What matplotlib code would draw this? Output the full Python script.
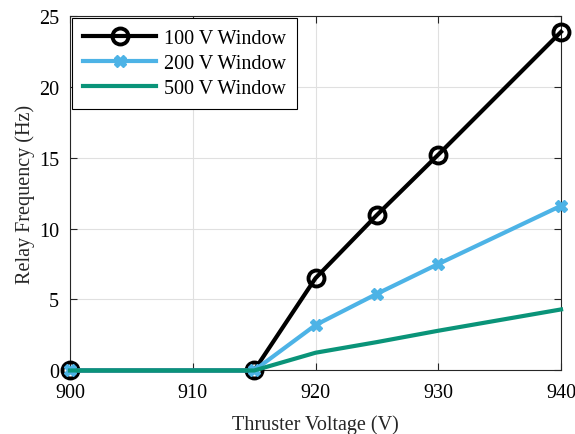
import matplotlib
matplotlib.use("Agg")
import matplotlib.pyplot as plt

voltage = [900, 915, 920, 925, 930, 940]
freq_100 = [0, 0, 6.5, 10.95, 15.2, 23.85]
freq_200 = [0, 0, 3.2, 5.4, 7.5, 11.6]
freq_500 = [0, 0, 1.25, 2.0, 2.8, 4.3]

x_ticks = [900, 910, 920, 930, 940]
y_ticks = [0, 5, 10, 15, 20, 25]

plt.rcParams['font.family'] = ['Liberation Serif', 'DejaVu Serif']
plt.rcParams['mathtext.fontset'] = 'stix'

fig = plt.figure(figsize=(5.75, 4.35), dpi=100)
ax = fig.add_axes([0.1217, 0.146, 0.854, 0.816])

ax.plot(voltage, freq_100, color='black', lw=3, marker='o', ms=11.5,
        mfc='none', mec='black', mew=2.8, label='100 V Window', clip_on=False, zorder=3)
ax.plot(voltage, freq_200, color='#4DB3E6', lw=3, marker='X', ms=9,
        mec='#4DB3E6', label='200 V Window', clip_on=False, zorder=4)
ax.plot(voltage, freq_500, color='#0A9479', lw=3, label='500 V Window',
        clip_on=False, zorder=5)

ax.set_xlim(900, 940)
ax.set_ylim(0, 25)
ax.set_xticks(x_ticks)
ax.set_yticks(y_ticks)
ax.tick_params(direction='in', top=True, right=True, labelsize=14.5, length=5,
               width=0.8, color='#262626')
ax.tick_params(axis='x', pad=9)
ax.tick_params(axis='y', pad=8)
for s in ax.spines.values():
    s.set_linewidth(0.8)
    s.set_color('#262626')
ax.grid(True, color='#E0E0E0', lw=0.8)
ax.set_axisbelow(True)

ax.set_xlabel('Thruster Voltage (V)', fontsize=14.5, color='#262626', labelpad=9)
ax.set_ylabel('Relay Frequency (Hz)', fontsize=14.5, color='#262626', labelpad=3)

leg = ax.legend(loc='upper left', fontsize=14.5, frameon=True, fancybox=False,
                edgecolor='black', framealpha=1, handlelength=3.6,
                borderaxespad=0.12, labelspacing=0.28, handletextpad=0.4,
                borderpad=0.55)
leg.get_frame().set_linewidth(0.8)

fig.savefig('out.png', dpi=100)
